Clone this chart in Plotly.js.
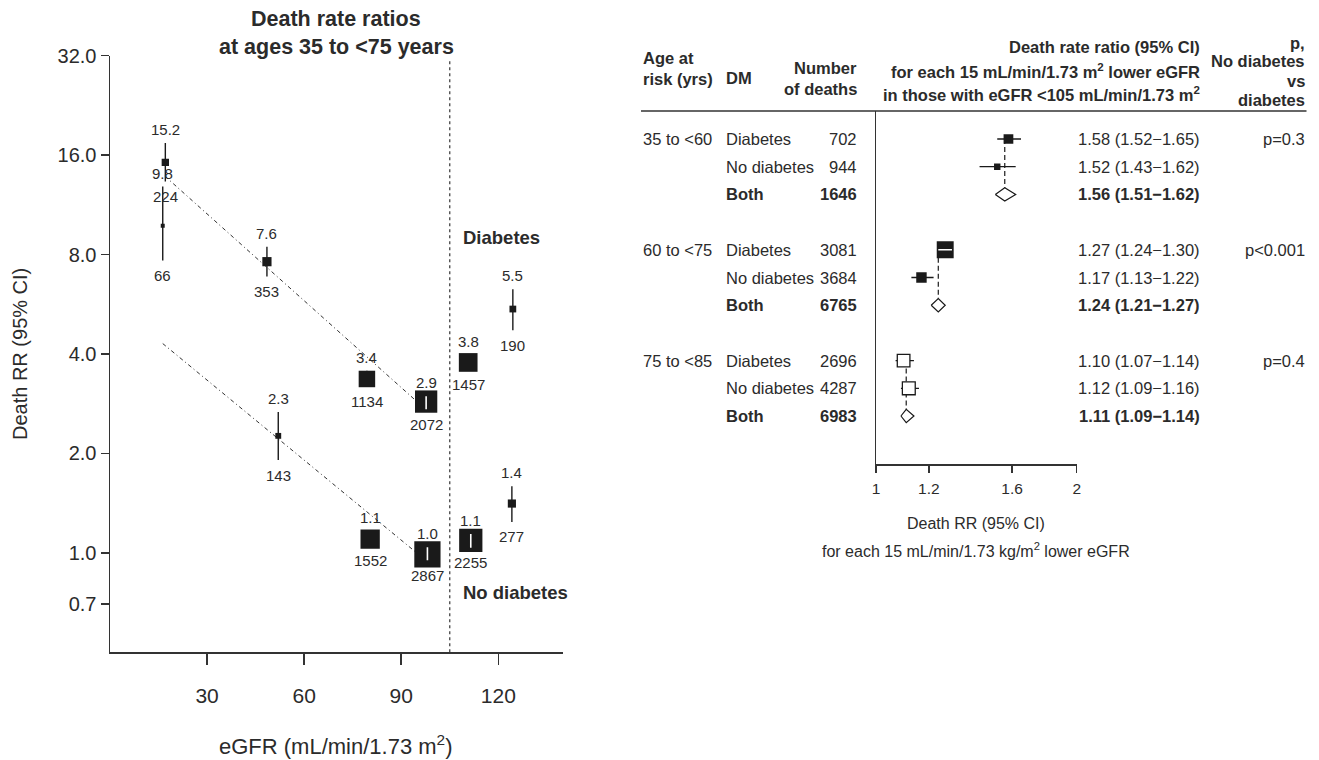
<!DOCTYPE html>
<html><head><meta charset="utf-8">
<script src="https://cdn.plot.ly/plotly-3.0.1.min.js"></script>
<style>html,body{margin:0;padding:0;background:#fff}#chart{width:1319px;height:760px}</style>
</head><body><div id="chart"></div>
<script>
// ---------------- Left panel data ----------------
const diabEgfr   = [17.1, 48.5, 79.4, 97.7, 110.7, 124.5];
const diabRR     = [15.2, 7.61, 3.36, 2.87, 3.77, 5.47];
const diabLo     = [13.3, 6.86, 3.18, 2.72, 3.60, 4.72];
const diabHi     = [17.4, 8.45, 3.56, 2.98, 3.97, 6.28];
const diabDeaths = [224, 353, 1134, 2072, 1457, 190];

const noDiabEgfr   = [16.3, 52.0, 80.4, 98.1, 111.5, 124.2];
const noDiabRR     = [9.77, 2.26, 1.10, 0.99, 1.09, 1.41];
const noDiabLo     = [7.67, 1.91, 1.054, 0.95, 1.037, 1.24];
const noDiabHi     = [12.85, 2.67, 1.162, 1.04, 1.14, 1.59];
const noDiabDeaths = [66, 143, 1552, 2867, 2255, 277];

const diabFitEgfr   = [17.0, 97.7];
const diabFitRR     = [13.8, 2.71];
const noDiabFitEgfr = [16.3, 98.1];
const noDiabFitRR   = [4.3, 0.94];
const egfrCutoff = 105;

const leftYTickVals = [0.7, 1, 2, 4, 8, 16, 32];
const leftYTickText = ['0.7', '1.0', '2.0', '4.0', '8.0', '16.0', '32.0'];
const leftXTickVals = [30, 60, 90, 120];

// ---------------- Right panel data ----------------
const ageGroups = ['35 to <60', '60 to <75', '75 to <85'];
const dmLabels  = ['Diabetes', 'No diabetes', 'Both'];
const deathsTbl = [[702, 944, 1646], [3081, 3684, 6765], [2696, 4287, 6983]];
const rrTbl     = [[1.58, 1.52, 1.56], [1.27, 1.17, 1.24], [1.10, 1.12, 1.11]];
const loTbl     = [[1.52, 1.43, 1.51], [1.24, 1.13, 1.21], [1.07, 1.09, 1.09]];
const hiTbl     = [[1.65, 1.62, 1.62], [1.30, 1.22, 1.27], [1.14, 1.16, 1.14]];
const pValues   = ['p=0.3', 'p<0.001', 'p=0.4'];
const rightXTickVals = [1, 1.2, 1.6, 2];
const rightXTickText = ['1', '1.2', '1.6', '2'];

// ---------------- Geometry / style ----------------
const W = 1319, H = 760;
const L = {left: 110, right: 563, top: 55.6, bottom: 652.3};
const R = {left: 876, right: 1076.7, top: 111, bottom: 464.3, rowTopPx: 139, rowPx: 27.7};
const COL = {age: 641, dm: 723.5, deaths: 858.5, est: 1201.5, p: 1306.5};
const FONT = 'Liberation Sans, Arial, Helvetica, sans-serif';
const TXT = '#2b2b2b', INK = '#1a1a1a';
const px = x => x / W, py = y => 1 - y / H;

const traces = [];
const annotations = [];
const ann = (o) => annotations.push(Object.assign({showarrow: false, xanchor: 'center', yanchor: 'middle',
  font: {family: FONT, size: 15, color: TXT}}, o));

// ---- Left panel ----
function segs(xs, lo, hi) {
  const X = [], Y = [];
  xs.forEach((x, i) => { X.push(x, x, null); Y.push(lo[i], hi[i], null); });
  return {X, Y};
}
[[diabFitEgfr, diabFitRR], [noDiabFitEgfr, noDiabFitRR]].forEach(([fx, fy]) => {
  traces.push({type: 'scatter', mode: 'lines', x: fx, y: fy, xaxis: 'x', yaxis: 'y',
    line: {color: '#333', width: 1, dash: '4px,3px,1px,3px'}, hoverinfo: 'skip', showlegend: false});
});
traces.push({type: 'scatter', mode: 'lines', x: [egfrCutoff, egfrCutoff], y: [0.5, 31], xaxis: 'x', yaxis: 'y',
  line: {color: '#444', width: 1.3, dash: 'dot'}, hoverinfo: 'skip', showlegend: false});

const groups = [
  {x: diabEgfr, rr: diabRR, lo: diabLo, hi: diabHi, n: diabDeaths},
  {x: noDiabEgfr, rr: noDiabRR, lo: noDiabLo, hi: noDiabHi, n: noDiabDeaths}
];
groups.forEach(g => {
  const s = segs(g.x, g.lo, g.hi);
  traces.push({type: 'scatter', mode: 'lines', x: s.X, y: s.Y, xaxis: 'x', yaxis: 'y',
    line: {color: INK, width: 1.4}, hoverinfo: 'skip', showlegend: false});
  traces.push({type: 'scatter', mode: 'markers', x: g.x, y: g.rr, xaxis: 'x', yaxis: 'y',
    marker: {symbol: 'square', color: INK, opacity: 1, size: g.n.map(n => 0.49 * Math.sqrt(n)), line: {width: 0}},
    hoverinfo: 'skip', showlegend: false});
  const idx = g.n.map((n, i) => n >= 2000 ? i : -1).filter(i => i >= 0);
  const w = segs(idx.map(i => g.x[i]), idx.map(i => g.lo[i]), idx.map(i => g.hi[i]));
  traces.push({type: 'scatter', mode: 'lines', x: w.X, y: w.Y, xaxis: 'x', yaxis: 'y',
    line: {color: '#fff', width: 1.6}, hoverinfo: 'skip', showlegend: false});
  g.x.forEach((x, i) => {
    ann({xref: 'x', yref: 'y', x: x, y: Math.log10(g.hi[i]), text: g.rr[i].toFixed(1), yshift: 13.5});
    ann({xref: 'x', yref: 'y', x: x, y: Math.log10(g.lo[i]), text: String(g.n[i]), yshift: -15});
  });
});

ann({xref: 'paper', yref: 'paper', x: px(336), y: py(18.5), text: '<b>Death rate ratios</b>', font: {family: FONT, size: 21.5, color: TXT}});
ann({xref: 'paper', yref: 'paper', x: px(336), y: py(46.5), text: '<b>at ages 35 to &lt;75 years</b>', font: {family: FONT, size: 21.5, color: TXT}});
ann({xref: 'paper', yref: 'paper', x: px(461), y: py(237), xanchor: 'left', text: '<b>Diabetes</b>', font: {family: FONT, size: 18.5, color: TXT}});
ann({xref: 'paper', yref: 'paper', x: px(461), y: py(592), xanchor: 'left', text: '<b>No diabetes</b>', font: {family: FONT, size: 18.5, color: TXT}});
ann({xref: 'paper', yref: 'paper', x: px(20), y: py(354), textangle: -90, text: 'Death RR (95% CI)', font: {family: FONT, size: 20, color: TXT}});
ann({xref: 'paper', yref: 'paper', x: px(336), y: py(745), text: 'eGFR (mL/min/1.73 m<sup>2</sup>)', font: {family: FONT, size: 22, color: TXT}});

// ---- Right panel ----
const rowOf = (g, r) => g * 4 + r;
const pxPerLog = (R.right - R.left) / Math.log10(2);
const rowMax = (R.bottom - R.rowTopPx) / R.rowPx;
const rowMin = (R.top - R.rowTopPx) / R.rowPx;
const diamondHalf = 0.24;
const tf = {family: FONT, size: 16.5, color: TXT};

ageGroups.forEach((age, g) => {
  const rows = [0, 1, 2].map(r => rowOf(g, r));
  const openSq = g === 2;
  traces.push({type: 'scatter', mode: 'lines', x: [rrTbl[g][2], rrTbl[g][2]], y: [rows[0], rows[2] - diamondHalf],
    xaxis: 'x2', yaxis: 'y2', line: {color: INK, width: 1.2, dash: '5px,3px'}, hoverinfo: 'skip', showlegend: false});
  const cx = [], cy = [];
  [0, 1].forEach(r => { cx.push(loTbl[g][r], hiTbl[g][r], null); cy.push(rows[r], rows[r], null); });
  traces.push({type: 'scatter', mode: 'lines', x: cx, y: cy, xaxis: 'x2', yaxis: 'y2',
    line: {color: INK, width: 1.3}, hoverinfo: 'skip', showlegend: false});
  const sizes = [0, 1].map(r => 0.8 / Math.log(hiTbl[g][r] / loTbl[g][r]));
  traces.push({type: 'scatter', mode: 'markers', x: [rrTbl[g][0], rrTbl[g][1]], y: [rows[0], rows[1]],
    xaxis: 'x2', yaxis: 'y2',
    marker: {symbol: 'square', size: sizes, opacity: 1, color: openSq ? '#fff' : INK,
      line: {color: INK, width: openSq ? 1.3 : 0}},
    hoverinfo: 'skip', showlegend: false});
  if (!openSq) {
    [0, 1].forEach(r => {
      const half = sizes[r] / 2;
      const dHi = Math.log10(hiTbl[g][r] / rrTbl[g][r]) * pxPerLog;
      const dLo = Math.log10(rrTbl[g][r] / loTbl[g][r]) * pxPerLog;
      if (dHi < half && dLo < half) {
        traces.push({type: 'scatter', mode: 'lines', x: [loTbl[g][r], hiTbl[g][r]], y: [rows[r], rows[r]],
          xaxis: 'x2', yaxis: 'y2', line: {color: '#fff', width: 1.5}, hoverinfo: 'skip', showlegend: false});
      }
    });
  }
  const lo = loTbl[g][2], hi = hiTbl[g][2], est = rrTbl[g][2], y = rows[2];
  traces.push({type: 'scatter', mode: 'lines', x: [lo, est, hi, est, lo], y: [y, y - diamondHalf, y, y + diamondHalf, y],
    xaxis: 'x2', yaxis: 'y2', fill: 'toself', fillcolor: '#fff', line: {color: INK, width: 1.2},
    hoverinfo: 'skip', showlegend: false});

  ann({xref: 'paper', yref: 'y2', x: px(COL.age), y: rows[0], xanchor: 'left', text: age.replace('<', '&lt;'), font: tf});
  [0, 1, 2].forEach(r => {
    const b = r === 2;
    const wrap = t => b ? '<b>' + t + '</b>' : t;
    ann({xref: 'paper', yref: 'y2', x: px(COL.dm), y: rows[r], xanchor: 'left', text: wrap(dmLabels[r]), font: tf});
    ann({xref: 'paper', yref: 'y2', x: px(COL.deaths), y: rows[r], xanchor: 'right', text: wrap(String(deathsTbl[g][r])), font: tf});
    const est = rrTbl[g][r].toFixed(2) + ' (' + loTbl[g][r].toFixed(2) + '\u2212' + hiTbl[g][r].toFixed(2) + ')';
    ann({xref: 'paper', yref: 'y2', x: px(COL.est), y: rows[r], xanchor: 'right', text: wrap(est), font: tf});
  });
  ann({xref: 'paper', yref: 'y2', x: px(COL.p), y: rows[0], xanchor: 'right', text: pValues[g].replace('<', '&lt;'), font: tf});
});

const hf = {family: FONT, size: 16.5, color: TXT};
const hdr = (x, y, t, anchor) => ann({xref: 'paper', yref: 'paper', x: px(x), y: py(y), xanchor: anchor, text: '<b>' + t + '</b>', font: hf});
hdr(COL.age, 58, 'Age at', 'left');
hdr(COL.age, 79, 'risk (yrs)', 'left');
hdr(COL.dm, 78, 'DM', 'left');
hdr(COL.deaths, 68, 'Number', 'right');
hdr(COL.deaths, 89, 'of deaths', 'right');
hdr(COL.est, 46.5, 'Death rate ratio (95% CI)', 'right');
hdr(COL.est, 70.5, 'for each 15 mL/min/1.73 m<sup>2</sup> lower eGFR', 'right');
hdr(COL.est, 94, 'in those with eGFR &lt;105 mL/min/1.73 m<sup>2</sup>', 'right');
hdr(COL.p, 43, 'p,', 'right');
hdr(COL.p, 61.5, 'No diabetes', 'right');
hdr(COL.p, 81, 'vs', 'right');
hdr(COL.p, 100, 'diabetes', 'right');

ann({xref: 'paper', yref: 'paper', x: px((R.left + R.right) / 2), y: py(523), text: 'Death RR (95% CI)', font: {family: FONT, size: 16, color: TXT}});
ann({xref: 'paper', yref: 'paper', x: px((R.left + R.right) / 2), y: py(550), text: 'for each 15 mL/min/1.73 kg/m<sup>2</sup> lower eGFR', font: {family: FONT, size: 16, color: TXT}});

const shapes = [{type: 'line', xref: 'paper', yref: 'paper', x0: px(COL.age), x1: px(COL.p), y0: py(R.top), y1: py(R.top),
  line: {color: '#333', width: 1.5}}];

const axisCommon = {showgrid: false, zeroline: false, showline: true, linecolor: '#333', linewidth: 1.5,
  ticks: 'outside', tickcolor: '#333', tickwidth: 1.5, fixedrange: true};

const layout = {
  width: W, height: H, margin: {l: 0, r: 0, t: 0, b: 0}, paper_bgcolor: '#fff', plot_bgcolor: '#fff',
  showlegend: false, font: {family: FONT, color: TXT},
  xaxis: Object.assign({}, axisCommon, {domain: [px(L.left), px(L.right)], range: [0, 140], anchor: 'y',
    tickvals: leftXTickVals, ticklen: 11, ticklabelstandoff: 13, tickfont: {family: FONT, size: 21, color: TXT}}),
  yaxis: Object.assign({}, axisCommon, {domain: [py(L.bottom), py(L.top)], type: 'log',
    range: [Math.log10(0.5), Math.log10(32)], anchor: 'x', tickvals: leftYTickVals, ticktext: leftYTickText,
    ticklen: 8, tickfont: {family: FONT, size: 20, color: TXT}}),
  xaxis2: Object.assign({}, axisCommon, {domain: [px(R.left), px(R.right)], type: 'log', range: [0, Math.log10(2)], anchor: 'y2',
    tickvals: rightXTickVals, ticktext: rightXTickText, ticklen: 7, ticklabelstandoff: 3,
    tickfont: {family: FONT, size: 15.5, color: TXT}}),
  yaxis2: Object.assign({}, axisCommon, {domain: [py(R.bottom), py(R.top)], range: [rowMax, rowMin], anchor: 'x2',
    ticks: '', showticklabels: false}),
  annotations: annotations,
  shapes: shapes
};

Plotly.newPlot('chart', traces, layout, {displayModeBar: false, staticPlot: true});
</script>
</body></html>
